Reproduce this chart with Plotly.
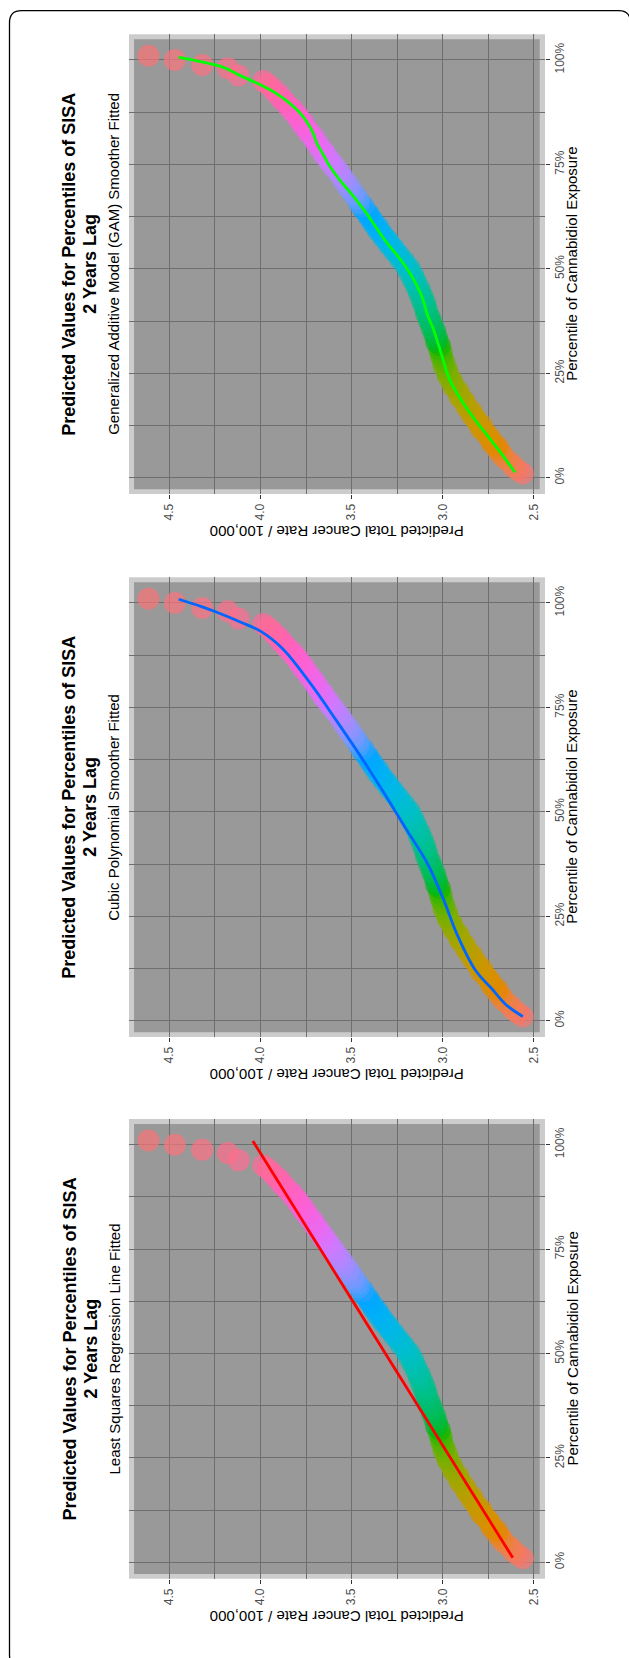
import math
import plotly.graph_objects as go

# ---------------- data ----------------
percentile = [1.0, 1.8, 2.5, 3.3, 4.2, 5.0, 5.8, 6.7, 7.5, 8.3, 9.2, 10.0, 10.8, 11.7, 12.5,
              13.3, 14.2, 15.0, 15.8, 16.7, 17.5, 18.3, 19.2, 20.0, 20.8, 21.7, 22.5, 23.3,
              24.2, 25.0, 25.8, 26.7, 27.5, 28.3, 29.2, 30.0, 30.8, 31.7, 32.5, 33.3, 34.2,
              35.0, 35.8, 36.7, 37.5, 38.3, 39.2, 40.0, 40.8, 41.7, 42.5, 43.3, 44.2, 45.0,
              45.8, 46.7, 47.5, 48.3, 49.2, 50.0, 50.8, 51.7, 52.5, 53.3, 54.2, 55.0, 55.8,
              56.7, 57.5, 58.3, 59.2, 60.0, 60.8, 61.7, 62.5, 63.3, 64.2, 65.0, 65.8, 66.7,
              67.5, 68.3, 69.2, 70.0, 70.8, 71.7, 72.5, 73.3, 74.2, 75.0, 75.8, 76.7, 77.5,
              78.3, 79.2, 80.0, 80.8, 81.7, 82.5, 83.3, 84.2, 85.0, 85.8, 86.7, 87.5, 88.3,
              89.2, 90.0, 90.8, 91.7, 92.5, 93.3, 94.2, 95.0, 96.3, 98.0, 98.8, 100.0, 101.0]
rate = [2.56, 2.585, 2.61, 2.62, 2.645, 2.67, 2.675, 2.70, 2.70, 2.73, 2.735, 2.75, 2.765, 2.79,
        2.785, 2.81, 2.82, 2.84, 2.84, 2.865, 2.875, 2.88, 2.905, 2.91, 2.915, 2.94, 2.945, 2.95,
        2.97, 2.975, 2.975, 2.995, 2.99, 3.00, 3.01, 3.005, 3.02, 3.015, 3.035, 3.03, 3.045,
        3.04, 3.06, 3.055, 3.075, 3.07, 3.09, 3.085, 3.10, 3.095, 3.115, 3.11, 3.13, 3.125,
        3.145, 3.145, 3.165, 3.16, 3.185, 3.18, 3.205, 3.21, 3.235, 3.24, 3.265, 3.27, 3.295,
        3.30, 3.325, 3.33, 3.355, 3.355, 3.38, 3.385, 3.405, 3.41, 3.435, 3.435, 3.46, 3.465,
        3.485, 3.49, 3.515, 3.515, 3.54, 3.545, 3.565, 3.57, 3.595, 3.60, 3.625, 3.63, 3.655,
        3.655, 3.68, 3.685, 3.705, 3.71, 3.735, 3.74, 3.765, 3.765, 3.79, 3.795, 3.82, 3.825,
        3.855, 3.865, 3.89, 3.895, 3.925, 3.935, 3.96, 3.985, 4.12, 4.18, 4.32, 4.47, 4.615]

ls_pct = [1.1, 100.9]
ls_rate = [2.615, 4.042]

cubic_pct = [1.0, 3.9, 7.7, 12.0, 20.5, 29.1, 37.7, 46.2, 54.8, 63.4, 71.9, 80.5, 89.0, 93.2,
             95.4, 97.9, 99.2, 100.9]
cubic_rate = [2.560, 2.654, 2.731, 2.819, 2.919, 2.996, 3.084, 3.205, 3.326, 3.452, 3.584,
              3.722, 3.877, 3.998, 4.108, 4.247, 4.328, 4.449]

gam_pct = [1.3, 5.7, 10.0, 14.3, 18.5, 23.6, 29.6, 35.6, 39.0, 42.4, 45.8, 49.2, 52.6, 56.1,
           59.5, 63.7, 68.0, 71.4, 74.8, 77.4, 79.9, 82.5, 85.1, 87.6, 89.8, 91.9, 94.0, 96.2,
           98.3, 99.6, 100.7]
gam_rate = [2.604, 2.676, 2.753, 2.830, 2.896, 2.963, 3.007, 3.051, 3.084, 3.106, 3.139, 3.183,
            3.238, 3.304, 3.359, 3.425, 3.502, 3.568, 3.623, 3.656, 3.689, 3.711, 3.744, 3.789,
            3.844, 3.910, 3.998, 4.108, 4.207, 4.328, 4.449]

title_line1 = "Predicted Values for Percentiles of SISA"
title_line2 = "2 Years Lag"
subtitles = ["Generalized Additive Model (GAM) Smoother Fitted",
             "Cubic Polynomial Smoother Fitted",
             "Least Squares Regression Line Fitted"]
fit_lines = [(gam_pct, gam_rate, "#00FF00", "spline"),
             (cubic_pct, cubic_rate, "#0066FF", "spline"),
             (ls_pct, ls_rate, "#FF0000", "linear")]
x_axis_title = "Percentile of Cannabidiol Exposure"
y_axis_title = "Predicted Total Cancer Rate / 100,000"


# ---------------- ggplot-like hue palette ----------------
def hcl_to_hex(h, c=100.0, l=65.0):
    hr = math.radians(h)
    u, v = c * math.cos(hr), c * math.sin(hr)
    Xn, Yn, Zn = 95.047, 100.0, 108.883
    Y = Yn * ((l + 16) / 116) ** 3 if l > 8 else Yn * l / 903.3
    den = Xn + 15 * Yn + 3 * Zn
    un, vn = 4 * Xn / den, 9 * Yn / den
    up, vp = u / (13 * l) + un, v / (13 * l) + vn
    X = 9.0 * Y * up / (4 * vp)
    Z = -X / 3 - 5 * Y + 3 * Y / vp
    X, Y, Z = X / 100, Y / 100, Z / 100
    r = 3.240479 * X - 1.537150 * Y - 0.498535 * Z
    g = -0.969256 * X + 1.875992 * Y + 0.041556 * Z
    b = 0.055648 * X - 0.204043 * Y + 1.057311 * Z

    def gam(t):
        t = 12.92 * t if t <= 0.0031308 else 1.055 * t ** (1 / 2.4) - 0.055
        return int(round(max(0, min(1, t)) * 255))
    return "#%02X%02X%02X" % (gam(r), gam(g), gam(b))


n = len(percentile)
point_colors = [hcl_to_hex(15 + 360 * i / n) for i in range(n)]

# ---------------- layout ----------------
W, H = 629, 1658
FONT = "Liberation Sans, Arial, Helvetica, sans-serif"
GRID = "#6E6E6E"
panel_tops = [34.3, 577.3, 1119.0]
PANEL_H = 459.7
X0, X1 = 129.0, 545.0

fig = go.Figure()
layout = dict(width=W, height=H, margin=dict(l=0, r=0, t=0, b=0, pad=0),
              paper_bgcolor="white", plot_bgcolor="#CCCCCC", showlegend=False,
              font=dict(family=FONT), shapes=[], annotations=[])

for i, top in enumerate(panel_tops):
    sfx = "" if i == 0 else str(i + 1)
    xa, ya = "x" + sfx, "y" + sfx
    fig.add_trace(go.Scatter(x=rate, y=percentile, mode="markers", xaxis=xa, yaxis=ya,
                             marker=dict(size=22, color=point_colors, opacity=0.7,
                                         line=dict(width=0)),
                             hoverinfo="skip"))
    lp, lr, lc, shp = fit_lines[i]
    fig.add_trace(go.Scatter(x=lr, y=lp, mode="lines", xaxis=xa, yaxis=ya,
                             line=dict(color=lc, width=2.8, shape=shp),
                             hoverinfo="skip"))
    layout["xaxis" + sfx] = dict(
        domain=[X0 / W, X1 / W], range=[4.722, 2.438], anchor=ya,
        tick0=2.5, dtick=0.5, tickformat=".1f", tickangle=-90,
        ticks="outside", ticklen=4, tickcolor="#333333", tickwidth=1,
        showgrid=True, gridcolor=GRID, gridwidth=1,
        minor=dict(tick0=2.5, dtick=0.25, showgrid=True, gridcolor=GRID, gridwidth=1),
        zeroline=False, showline=False, fixedrange=True,
        tickfont=dict(family=FONT, size=12, color="#4D4D4D"))
    layout["yaxis" + sfx] = dict(
        domain=[1 - (top + PANEL_H) / H, 1 - top / H], range=[-3.9, 106.15], anchor=xa,
        side="right", tick0=0, dtick=25, ticksuffix="%", tickangle=-90,
        ticks="outside", ticklen=4, tickcolor="#333333", tickwidth=1,
        showgrid=True, gridcolor=GRID, gridwidth=1,
        minor=dict(tick0=0, dtick=12.5, showgrid=True, gridcolor=GRID, gridwidth=1),
        zeroline=False, showline=False, fixedrange=True,
        tickfont=dict(family=FONT, size=12, color="#4D4D4D"))
    # darker inner panel
    layout["shapes"].append(dict(type="rect", xref=xa + " domain", yref=ya + " domain",
                                 x0=5 / 416, x1=410.7 / 416, y0=4.7 / PANEL_H,
                                 y1=1 - 5 / PANEL_H, fillcolor="#999999",
                                 line=dict(width=0), layer="below"))
    cy = 1 - (top + 230) / H
    for txt, xpx, size, bold in [(title_line1, 69.5, 18, True), (title_line2, 90.5, 18, True),
                                 (subtitles[i], 113.5, 15, False)]:
        layout["annotations"].append(dict(
            text="<b>%s</b>" % txt if bold else txt, x=xpx / W, y=cy, xref="paper",
            yref="paper", showarrow=False, textangle=-90, xanchor="center",
            yanchor="middle", font=dict(family=FONT, size=size, color="black")))
    layout["annotations"].append(dict(
        text=x_axis_title, x=571.5 / W, y=cy, xref="paper", yref="paper", showarrow=False,
        textangle=-90, xanchor="center", yanchor="middle",
        font=dict(family=FONT, size=15, color="black")))
    layout["annotations"].append(dict(
        text=y_axis_title, x=336.9 / W, y=1 - (top + 497.4) / H, xref="paper", yref="paper",
        showarrow=False, textangle=180, xanchor="center", yanchor="middle",
        font=dict(family=FONT, size=15, color="black")))

# rounded outer frame
L, T, R, B, r = 9.5 / W, 1 - 10.7 / H, 630.5 / W, 1 - 1667 / H, 12
rx, ry = r / W, r / H
path = ("M %f,%f L %f,%f Q %f,%f %f,%f L %f,%f Q %f,%f %f,%f L %f,%f Q %f,%f %f,%f "
        "L %f,%f Q %f,%f %f,%f Z") % (
    L + rx, T, R - rx, T, R, T, R, T - ry, R, B + ry, R, B, R - rx, B,
    L + rx, B, L, B, L, B + ry, L, T - ry, L, T, L + rx, T)
layout["shapes"].append(dict(type="path", xref="paper", yref="paper", path=path,
                             line=dict(color="black", width=1.3), layer="above"))

fig.update_layout(**layout)
fig.write_html("out.html", config={"displayModeBar": False},
               post_script="document.body.style.margin='0';")
